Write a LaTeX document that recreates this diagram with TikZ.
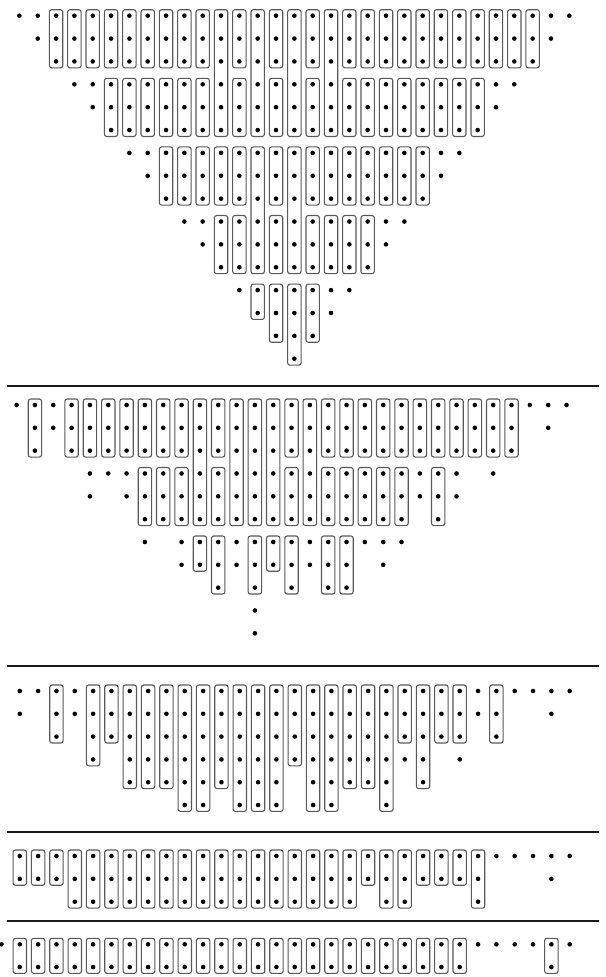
\documentclass[tikz,border=0pt]{standalone}
\begin{document}
\begin{tikzpicture}[x=1pt,y=-1pt,
  boxst/.style={draw=black!65,line width=1.1pt,rounded corners=2.3pt},
  sepline/.style={draw=black!90,line width=2pt}]
\useasboundingbox (0,0) rectangle (605,977);
\clip (0,0) rectangle (605,977);
\def\dx{18.33}
\newcommand\pdt[2]{\fill ({\xo+\dx*(#1)},{\yo+\dy*(#2)}) circle (2.3);}
\newcommand\pbx[3]{\draw[boxst] ({\xo+\dx*(#1)-6.7},{\yo+\dy*(#2)-6}) rectangle ({\xo+\dx*(#1)+6.7},{\yo+\dy*(#3)+6.4});}
% ---------------- section 1 ----------------
\def\xo{19.4}\def\yo{15.7}\def\dy{22.87}
\foreach \r in {0,...,15}{\pgfmathtruncatemacro\ce{30-\r}\foreach \c in {\r,...,\ce}{\pdt{\c}{\r}}}
\foreach \c in {2,3,4,5,6,7,8,9,10,12,14,16,18,19,20,21,22,23,24,25,26,27,28}{\pbx{\c}{0}{2}}
\foreach \c in {11,13,15,17}{\pbx{\c}{0}{5}}
\foreach \c in {5,6,7,8,9,10,12,14,16,18,19,20,21,22,23,24,25}{\pbx{\c}{3}{5}}
\foreach \c in {8,9,10,11,12,14,16,17,18,19,20,21,22}{\pbx{\c}{6}{8}}
\foreach \c in {13,15}{\pbx{\c}{6}{11}}
\foreach \c in {11,12,14,16,17,18,19}{\pbx{\c}{9}{11}}
\pbx{13}{12}{13}\pbx{14}{12}{14}\pbx{15}{12}{15}\pbx{16}{12}{14}
\draw[sepline] (7,386) -- (599,386);
% ---------------- section 2 ----------------
\def\xo{16.6}\def\yo{405}\def\dy{22.83}
\foreach \c in {0,...,30}{\pdt{\c}{0}}
\foreach \c in {1,...,27,29}{\pdt{\c}{1}}
\foreach \c in {1,3,4,...,27}{\pdt{\c}{2}}
\foreach \c in {4,5,...,24,26}{\pdt{\c}{3}}
\foreach \c in {4,6,7,...,24}{\pdt{\c}{4}}
\foreach \c in {7,8,...,21,23}{\pdt{\c}{5}}
\foreach \c in {7,9,10,...,21}{\pdt{\c}{6}}
\foreach \c in {9,10,...,18,20}{\pdt{\c}{7}}
\foreach \c in {11,13,15,17,18}{\pdt{\c}{8}}
\pdt{13}{9}\pdt{13}{10}
\foreach \c in {1,3,4,5,6,7,8,9,11,15,17,18,19,20,21,22,23,24,25,26,27}{\pbx{\c}{0}{2}}
\foreach \c in {10,12,13,14,16}{\pbx{\c}{0}{5}}
\foreach \c in {7,8,9,11,15,17,18,19,20,21,23}{\pbx{\c}{3}{5}}
\foreach \c in {10,14}{\pbx{\c}{6}{7}}
\foreach \c in {11,13,15,17,18}{\pbx{\c}{6}{8}}
\draw[sepline] (7,666) -- (599,666);
% ---------------- section 3 ----------------
\def\xo{19.8}\def\yo{691}\def\dy{22.8}
\foreach \c/\h in {0/2,1/1,2/3,3/2,4/4,5/3,6/5,7/5,8/5,9/6,10/6,11/5,12/6,13/6,14/6,15/4,16/6,17/6,18/5,19/5,20/6,21/4,22/5,23/3,24/4,25/2,26/3,27/1,28/1,29/2,30/1}{\pgfmathtruncatemacro\he{\h-1}\foreach \r in {0,...,\he}{\pdt{\c}{\r}}}
\foreach \c/\e in {2/2,4/3,5/2,6/4,7/4,8/4,9/5,10/5,11/4,12/5,13/5,14/5,15/3,16/5,17/5,18/4,19/4,20/5,21/2,22/4,23/2,24/2,26/2}{\pbx{\c}{0}{\e}}
\draw[sepline] (7,831.5) -- (599,831.5);
% ---------------- section 4 ----------------
\def\xo{19.8}\def\yo{856}\def\dy{22.85}
\foreach \c/\h in {0/2,1/2,2/2,3/3,4/3,5/3,6/3,7/3,8/3,9/3,10/3,11/3,12/3,13/3,14/3,15/3,16/3,17/3,18/3,19/2,20/3,21/3,22/2,23/2,24/2,25/3,26/1,27/1,28/1,29/2,30/1}{\pgfmathtruncatemacro\he{\h-1}\foreach \r in {0,...,\he}{\pdt{\c}{\r}}}
\foreach \c/\e in {0/1,1/1,2/1,3/2,4/2,5/2,6/2,7/2,8/2,9/2,10/2,11/2,12/2,13/2,14/2,15/2,16/2,17/2,18/2,19/1,20/2,21/2,22/1,23/1,24/1,25/2}{\pbx{\c}{0}{\e}}
\draw[sepline] (7,920.5) -- (599,920.5);
% ---------------- section 5 ----------------
\def\xo{19.8}\def\yo{944.3}\def\dy{22.7}
\pdt{-1}{0}
\foreach \c in {0,...,24}{\pdt{\c}{0}\pdt{\c}{1}\pbx{\c}{0}{1}}
\foreach \c in {25,26,27,28,30}{\pdt{\c}{0}}
\pdt{29}{0}\pdt{29}{1}\pbx{29}{0}{1}
\end{tikzpicture}
\end{document}
